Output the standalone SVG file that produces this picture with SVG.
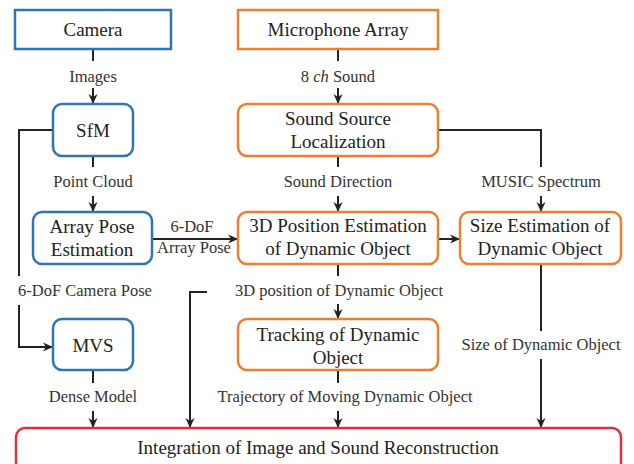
<svg xmlns="http://www.w3.org/2000/svg" width="634" height="464" viewBox="0 0 634 464">
<style>
.box{fill:#fff;stroke-width:2.5}
.blue{stroke:#2E75B6}
.orange{stroke:#ED7D31}
.red{stroke:#E0303A}
.ntext{font-size:19px;fill:#222;text-anchor:middle}
.lbl{font-size:16.5px;fill:#333;text-anchor:middle}
.conn{fill:none;stroke:#222;stroke-width:2}
</style>
<defs>
<marker id="ah" markerWidth="10" markerHeight="10" refX="9" refY="5" orient="auto" markerUnits="userSpaceOnUse">
<path d="M0,0.5 L10,5 L0,9.5 L3,5 z" fill="#222"/>
</marker>
</defs>
<rect width="634" height="464" fill="#fff"/>
<g id="connectors">
<path class="conn" d="M93,49 V61"/>
<path class="conn" d="M93,88 V103" marker-end="url(#ah)"/>
<path class="conn" d="M93,156 V167"/>
<path class="conn" d="M93,196 V211" marker-end="url(#ah)"/>
<path class="conn" d="M338,49 V61"/>
<path class="conn" d="M338,88 V103" marker-end="url(#ah)"/>
<path class="conn" d="M338,156 V167"/>
<path class="conn" d="M338,196 V211" marker-end="url(#ah)"/>
<path class="conn" d="M438,130 H541 V167"/>
<path class="conn" d="M541,196 V211" marker-end="url(#ah)"/>
<path class="conn" d="M152,239 H237" marker-end="url(#ah)"/>
<path class="conn" d="M438,239 H459" marker-end="url(#ah)"/>
<path class="conn" d="M338,264 V276"/>
<path class="conn" d="M338,304 V318" marker-end="url(#ah)"/>
<path class="conn" d="M338,370 V383"/>
<path class="conn" d="M338,411 V427" marker-end="url(#ah)"/>
<path class="conn" d="M93,370 V383"/>
<path class="conn" d="M93,411 V427" marker-end="url(#ah)"/>
<path class="conn" d="M541,264 V331"/>
<path class="conn" d="M541,359 V427" marker-end="url(#ah)"/>
<path class="conn" d="M53,130 H19 V276"/>
<path class="conn" d="M19,305 V347 H52" marker-end="url(#ah)"/>
<path class="conn" d="M207,292 H190 V427" marker-end="url(#ah)"/>
<text class="lbl" font-family="Liberation Serif" x="93" y="82">Images</text>
<text class="lbl" font-family="Liberation Serif" x="338" y="82">8 <tspan font-style="italic">ch</tspan> Sound</text>
<text class="lbl" font-family="Liberation Serif" x="93" y="187">Point Cloud</text>
<text class="lbl" font-family="Liberation Serif" x="338" y="187">Sound Direction</text>
<text class="lbl" font-family="Liberation Serif" x="541" y="187">MUSIC Spectrum</text>
<text class="lbl" font-family="Liberation Serif" x="192" y="232">6-DoF</text>
<text class="lbl" font-family="Liberation Serif" x="194" y="253">Array Pose</text>
<text class="lbl" font-family="Liberation Serif" x="85" y="296">6-DoF Camera Pose</text>
<text class="lbl" font-family="Liberation Serif" x="339" y="296">3D position of Dynamic Object</text>
<text class="lbl" font-family="Liberation Serif" x="541" y="350">Size of Dynamic Object</text>
<text class="lbl" font-family="Liberation Serif" x="93" y="402">Dense Model</text>
<text class="lbl" font-family="Liberation Serif" x="345" y="402">Trajectory of Moving Dynamic Object</text>
</g>
<g id="camera"><rect class="box blue" x="15" y="10" width="156" height="39"/><text class="ntext" font-family="Liberation Serif" x="93" y="36">Camera</text></g>
<g id="mic"><rect class="box orange" x="238" y="10" width="200" height="39"/><text class="ntext" font-family="Liberation Serif" x="338" y="36">Microphone Array</text></g>
<g id="sfm"><rect class="box blue" x="53" y="104" width="80" height="52" rx="9"/><text class="ntext" font-family="Liberation Serif" x="93" y="137">SfM</text></g>
<g id="ssl"><rect class="box orange" x="238" y="104" width="200" height="52" rx="9"/><text class="ntext" font-family="Liberation Serif" x="338" y="125">Sound Source</text><text class="ntext" font-family="Liberation Serif" x="338" y="148">Localization</text></g>
<g id="arraypose"><rect class="box blue" x="33" y="212" width="119" height="52" rx="9"/><text class="ntext" font-family="Liberation Serif" x="92" y="233">Array Pose</text><text class="ntext" font-family="Liberation Serif" x="92" y="256">Estimation</text></g>
<g id="pos3d"><rect class="box orange" x="238" y="212" width="200" height="52" rx="9"/><text class="ntext" font-family="Liberation Serif" x="338" y="232">3D Position Estimation</text><text class="ntext" font-family="Liberation Serif" x="338" y="255">of Dynamic Object</text></g>
<g id="size"><rect class="box orange" x="460" y="212" width="161" height="52" rx="9"/><text class="ntext" font-family="Liberation Serif" x="540" y="232">Size Estimation of</text><text class="ntext" font-family="Liberation Serif" x="540" y="255">Dynamic Object</text></g>
<g id="mvs"><rect class="box blue" x="53" y="319" width="80" height="51" rx="9"/><text class="ntext" font-family="Liberation Serif" x="93" y="352">MVS</text></g>
<g id="tracking"><rect class="box orange" x="238" y="319" width="200" height="51" rx="9"/><text class="ntext" font-family="Liberation Serif" x="338" y="341">Tracking of Dynamic</text><text class="ntext" font-family="Liberation Serif" x="338" y="364">Object</text></g>
<g id="integration"><rect class="box red" x="16" y="428" width="605" height="44" rx="9"/><text class="ntext" font-family="Liberation Serif" x="318" y="454">Integration of Image and Sound Reconstruction</text></g>
</svg>
